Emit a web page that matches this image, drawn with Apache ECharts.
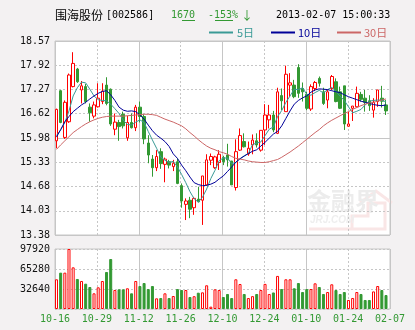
<!DOCTYPE html>
<html>
<head>
<meta charset="utf-8">
<script src="https://cdn.jsdelivr.net/npm/echarts@6/dist/echarts.min.js"></script>
<style>
html,body{margin:0;padding:0;background:#f3f1f2;}
#c{width:415px;height:330px;}
</style>
</head>
<body>
<div id="c"></div>
<script>
// Trading days, 2012-10-16 .. 2013-02-07
const dates = [
 '2012-10-16','2012-10-17','2012-10-18','2012-10-19','2012-10-22','2012-10-23','2012-10-24','2012-10-25','2012-10-26','2012-10-29',
 '2012-10-30','2012-10-31','2012-11-01','2012-11-02','2012-11-05','2012-11-06','2012-11-07','2012-11-08','2012-11-09','2012-11-12',
 '2012-11-13','2012-11-14','2012-11-15','2012-11-16','2012-11-19','2012-11-20','2012-11-21','2012-11-22','2012-11-23','2012-11-26',
 '2012-11-27','2012-11-28','2012-11-29','2012-11-30','2012-12-03','2012-12-04','2012-12-05','2012-12-06','2012-12-07','2012-12-10',
 '2012-12-11','2012-12-12','2012-12-13','2012-12-14','2012-12-17','2012-12-18','2012-12-19','2012-12-20','2012-12-21','2012-12-24',
 '2012-12-25','2012-12-26','2012-12-27','2012-12-28','2012-12-31','2013-01-04','2013-01-07','2013-01-08','2013-01-09','2013-01-10',
 '2013-01-11','2013-01-14','2013-01-15','2013-01-16','2013-01-17','2013-01-18','2013-01-21','2013-01-22','2013-01-23','2013-01-24',
 '2013-01-25','2013-01-28','2013-01-29','2013-01-30','2013-01-31','2013-02-01','2013-02-04','2013-02-05','2013-02-06','2013-02-07'
];

const opens = [
 15.90,17.24,15.99,16.41,17.35,17.82,17.26,17.35,16.80,16.56,
 16.81,16.95,17.39,17.28,16.21,16.39,16.61,15.98,16.39,16.25,
 16.80,16.55,15.84,15.41,15.18,15.61,15.27,15.34,15.21,15.34,
 14.70,14.20,14.31,14.11,14.34,14.31,14.72,15.38,15.18,15.32,
 15.45,15.52,15.36,14.65,15.65,15.88,15.55,15.79,15.90,15.65,
 16.19,16.46,16.59,16.10,17.11,16.68,17.39,17.39,17.86,17.30,
 17.14,16.75,17.30,17.57,17.21,16.99,17.30,17.48,17.21,17.37,
 16.29,16.77,16.81,17.14,17.04,16.97,16.72,16.95,17.04,16.86
];
const closes = [
 16.74,16.39,16.93,17.66,17.97,17.48,17.37,16.95,16.65,16.86,
 17.04,17.23,16.90,16.35,16.40,16.28,16.30,16.39,16.25,16.80,
 16.55,15.95,15.52,15.18,15.48,15.29,15.41,15.25,15.30,14.76,
 14.29,14.29,14.07,14.36,14.27,14.96,15.39,15.48,15.47,15.54,
 15.34,15.39,14.72,15.61,16.04,15.74,15.70,15.92,15.79,16.18,
 16.59,16.59,16.19,17.21,16.97,17.68,17.45,17.08,17.17,17.21,
 16.77,17.35,17.46,17.44,16.90,17.21,17.62,16.95,16.77,16.35,
 16.35,16.83,17.17,17.01,16.93,16.84,16.93,17.26,16.96,16.70
];
const lows = [
 15.70,16.37,15.95,16.38,17.33,17.45,16.90,16.90,16.41,16.50,
 16.79,16.88,16.85,16.30,16.05,15.90,16.23,15.90,16.23,16.16,
 16.39,15.81,15.30,14.94,15.09,15.15,14.79,15.16,15.09,14.74,
 14.11,13.78,13.83,13.92,14.25,13.65,14.70,15.25,15.15,15.12,
 15.25,15.21,14.72,14.57,15.63,15.72,15.50,15.54,15.72,15.61,
 15.79,16.23,16.13,16.08,16.72,16.68,17.08,17.04,17.05,16.95,
 16.72,16.70,17.23,17.35,16.86,16.77,17.26,16.93,16.75,16.19,
 16.28,16.43,16.79,16.95,16.68,16.70,16.52,16.81,16.79,16.59
];
const highs = [
 16.76,17.26,16.98,17.70,18.27,17.85,17.50,17.42,16.90,16.95,
 17.44,17.44,17.60,17.30,16.63,16.46,16.68,16.57,16.63,16.86,
 16.95,16.61,16.05,15.52,15.65,15.70,15.45,15.39,15.39,15.43,
 14.76,14.36,14.40,14.40,14.67,14.96,15.54,15.56,15.50,15.65,
 15.50,15.82,15.36,15.94,16.23,16.10,15.88,16.07,16.10,16.18,
 16.88,16.86,16.70,17.32,17.30,17.91,17.71,17.53,17.95,17.46,
 17.21,17.41,17.50,17.62,17.32,17.26,17.66,17.57,17.35,17.37,
 16.68,16.83,17.35,17.21,17.26,17.12,17.04,17.26,17.37,16.99
];
const volumes = [
 48500,59300,59300,97900,68000,49000,45700,41300,35900,25600,
 35400,45700,60400,81600,31000,32100,32100,33800,25600,45700,
 37500,42400,32600,37500,17400,17900,25600,17900,21200,32600,
 31000,31000,19600,20900,26600,27200,38700, 3800,32100,31000,
 19600,24500,17900,48500,40800,24500,17900,21000,24500,31000,
 41000,24500,27000,54000,32600,48500,48500,33800,42400,27700,
 32600,32600,41900,35900,24500,27700,40300,31000,24500,27700,
 14700,18000,27700,24500,14700,14700,28700,37500,31000,22800
];
const ma5 = [
 16.04,16.19,16.39,16.70,17.10,17.32,17.47,17.45,17.28,17.10,
 17.00,16.98,16.97,16.88,16.76,16.63,16.45,16.34,16.32,16.40,
 16.46,16.39,16.15,15.92,15.70,15.46,15.38,15.32,15.35,15.20,
 15.00,14.78,14.54,14.35,14.26,14.39,14.61,14.89,15.11,15.37,
 15.44,15.44,15.29,15.32,15.42,15.50,15.56,15.80,15.84,15.87,
 16.04,16.21,16.27,16.55,16.71,16.93,17.10,17.28,17.27,17.32,
 17.14,17.12,17.19,17.25,17.18,17.27,17.33,17.22,17.09,16.98,
 16.81,16.65,16.69,16.74,16.86,16.96,16.98,16.99,16.99,16.94
];
const ma10 = [
 16.00,16.20,16.41,16.55,16.68,16.77,16.86,16.93,17.02,17.10,
 17.17,17.22,17.24,17.13,16.98,16.80,16.72,16.69,16.70,16.68,
 16.59,16.48,16.32,16.17,16.05,15.97,15.88,15.75,15.55,15.43,
 15.25,15.10,14.93,14.78,14.73,14.70,14.71,14.74,14.79,14.88,
 14.96,15.08,15.20,15.33,15.42,15.49,15.56,15.62,15.66,15.76,
 15.86,15.97,16.08,16.15,16.30,16.50,16.70,16.88,16.98,17.05,
 17.10,17.20,17.26,17.29,17.28,17.27,17.24,17.21,17.19,17.13,
 17.08,17.04,17.00,16.96,16.93,16.90,16.87,16.85,16.84,16.86
];
const ma30 = [
 15.67,15.79,15.90,16.01,16.12,16.20,16.28,16.35,16.41,16.46,
 16.50,16.53,16.55,16.56,16.56,16.56,16.56,16.57,16.58,16.59,
 16.60,16.61,16.61,16.60,16.58,16.53,16.48,16.44,16.40,16.35,
 16.30,16.22,16.12,16.03,15.93,15.84,15.76,15.70,15.66,15.61,
 15.58,15.54,15.48,15.43,15.41,15.39,15.36,15.34,15.33,15.32,
 15.32,15.34,15.37,15.40,15.46,15.53,15.60,15.68,15.76,15.85,
 15.94,16.03,16.12,16.20,16.30,16.38,16.45,16.51,16.57,16.63,
 16.68,16.74,16.79,16.84,16.88,16.91,16.93,16.96,16.99,17.02
];

const priceTicks = ['13.38','14.03','14.68','15.33','15.98','16.62','17.27','17.92','18.57'];
const volumeTicks = ['', '32640', '65280', '97920'];
const dateTicks = ['10-16','10-29','11-12','11-26','12-10','12-24','01-10','01-24','02-07'];

const UP = '#ff0000', DOWN = '#339933', GRIDC = '#c6c6c6';
const MONO = '"DejaVu Sans Mono", "Liberation Mono", monospace';
const CJK = '"Noto Sans CJK SC", sans-serif';

const candleData = opens.map((o, i) => [o, closes[i], lows[i], highs[i]]);
const volData = volumes.map((v, i) => ({
  value: v,
  itemStyle: closes[i] >= opens[i]
    ? { color: '#ffffff', borderColor: UP, borderWidth: 1 }
    : { color: DOWN, borderColor: DOWN, borderWidth: 1 }
}));

const PMIN = 13.38, PMAX = 18.57, PSTEP = (PMAX - PMIN) / 8;
const VMAX = 97920, VSTEP = 32640;

// frame grids (border + split lines) and data grids overlaid on them
const grids = [
  { left: 55, top: 41, width: 335, height: 194, show: true, backgroundColor: '#fff', borderColor: GRIDC, borderWidth: 1 },
  { left: 54.4, top: 41, width: 333.7, height: 194, show: false },
  { left: 55, top: 249, width: 335, height: 60, show: true, backgroundColor: '#fff', borderColor: GRIDC, borderWidth: 1 },
  { left: 54.4, top: 249, width: 333.7, height: 60, show: false }
];

const dashed = { show: true, lineStyle: { color: GRIDC, type: [2, 2], width: 1 } };
const solid = { show: true, lineStyle: { color: GRIDC, type: 'solid', width: 1 } };
const hiddenAxisParts = { axisLine: { show: false }, axisTick: { show: false } };

const xAxes = [
  Object.assign({ type: 'value', gridIndex: 0, min: 0, max: 8, interval: 1, axisLabel: { show: false }, splitLine: dashed }, hiddenAxisParts),
  Object.assign({ type: 'value', gridIndex: 0, min: 0, max: 8, interval: 2, axisLabel: { show: false }, splitLine: solid }, hiddenAxisParts),
  Object.assign({ type: 'category', gridIndex: 1, data: dates, boundaryGap: true, axisLabel: { show: false }, splitLine: { show: false } }, hiddenAxisParts),
  Object.assign({ type: 'value', gridIndex: 2, min: 0, max: 8, interval: 1, splitLine: dashed,
    axisLabel: { show: true, margin: 5, color: '#339933', fontFamily: MONO, fontSize: 10,
      showMinLabel: true, showMaxLabel: true, hideOverlap: false,
      formatter: v => dateTicks[Math.round(v)] } }, hiddenAxisParts),
  Object.assign({ type: 'value', gridIndex: 2, min: 0, max: 8, interval: 2, axisLabel: { show: false }, splitLine: solid }, hiddenAxisParts),
  Object.assign({ type: 'category', gridIndex: 3, data: dates, boundaryGap: true, axisLabel: { show: false }, splitLine: { show: false } }, hiddenAxisParts)
];

const yAxes = [
  Object.assign({ type: 'value', gridIndex: 0, min: PMIN, max: PMAX, interval: PSTEP, splitLine: dashed,
    axisLabel: { show: true, margin: 5, color: '#111', fontFamily: MONO, fontSize: 10,
      showMinLabel: true, showMaxLabel: true,
      formatter: v => priceTicks[Math.round((v - PMIN) / PSTEP)] } }, hiddenAxisParts),
  Object.assign({ type: 'value', gridIndex: 0, min: PMIN, max: PMAX, interval: PSTEP * 4, axisLabel: { show: false }, splitLine: solid }, hiddenAxisParts),
  Object.assign({ type: 'value', gridIndex: 1, min: PMIN, max: PMAX, axisLabel: { show: false }, splitLine: { show: false } }, hiddenAxisParts),
  Object.assign({ type: 'value', gridIndex: 2, min: 0, max: VMAX, interval: VSTEP, splitLine: dashed,
    axisLabel: { show: true, margin: 5, color: '#111', fontFamily: MONO, fontSize: 10,
      showMaxLabel: true,
      formatter: v => volumeTicks[Math.round(v / VSTEP)] } }, hiddenAxisParts),
  Object.assign({ type: 'value', gridIndex: 3, min: 0, max: VMAX, axisLabel: { show: false }, splitLine: { show: false } }, hiddenAxisParts)
];

function maLine(name, data, color) {
  return { name, type: 'line', xAxisIndex: 2, yAxisIndex: 2, data, symbol: 'none', smooth: false,
    silent: true, animation: false, lineStyle: { color, width: 1 }, z: 3 };
}

const txt = (text, x, y, fill, font, extra) => ({
  type: 'text', x, y, silent: true,
  style: Object.assign({ text, fill, font, verticalAlign: 'middle', align: 'left' }, extra || {})
});
const seg = (x1, x2, y, color, w) => ({
  type: 'line', silent: true, shape: { x1, y1: y, x2, y2: y }, style: { stroke: color, lineWidth: w || 2 }
});

const chart = echarts.init(document.getElementById('c'), null, { renderer: 'canvas' });
chart.setOption({
  animation: false,
  backgroundColor: '#f3f1f2',
  grid: grids,
  xAxis: xAxes,
  yAxis: yAxes,
  graphic: [
    // watermark
    { type: 'polyline', silent: true, z: 0, shape: { points: [[309,229],[352,229],[352,216],[368,216],[368,203],[385,203],[385,229],[352,229]] },
      style: { stroke: '#f9e6e6', lineWidth: 3, fill: null } },
    { type: 'polyline', silent: true, z: 0, shape: { points: [[360,203],[376,191],[392,203]] },
      style: { stroke: '#f9e6e6', lineWidth: 3, fill: null } },
    txt('金融界', 307, 201, '#ececec', 'bold 24px ' + CJK),
    txt('JRJ.COM', 310, 220, '#eeeeee', 'italic bold 10px "Liberation Sans", sans-serif'),
    // header: name, code, last price, change, time
    txt('围海股份', 55, 15, '#000', '12px ' + CJK),
    txt('[002586]', 106, 15, '#000', '10px ' + MONO),
    txt('1670', 171, 15, '#339933', '10px ' + MONO),
    seg(182, 195, 20.5, '#339933', 1),
    txt('-153%', 208, 15, '#339933', '10px ' + MONO),
    txt('↓', 241, 15, '#339933', '12px ' + CJK),
    seg(215, 233, 20.5, '#339933', 1),
    txt('2013-02-07 15:00:33', 276, 15, '#000', '10px ' + MONO),
    // legend
    seg(209, 233, 32.5, '#3a9a96'), txt('5日', 237, 32.5, '#3a9a96', '11px ' + CJK),
    seg(271, 295, 32.5, '#000099'), txt('10日', 298, 32.5, '#000099', '11px ' + CJK),
    seg(337, 361, 32.5, '#cc6666'), txt('30日', 364, 32.5, '#cc6666', '11px ' + CJK)
  ],
  series: [
    { type: 'candlestick', name: 'K', xAxisIndex: 2, yAxisIndex: 2, data: candleData, barWidth: 3,
      silent: true, z: 2,
      itemStyle: { color: '#ffffff', borderColor: UP, color0: DOWN, borderColor0: DOWN, borderWidth: 1 } },
    maLine('MA5', ma5, '#3a9a96'),
    maLine('MA10', ma10, '#000099'),
    maLine('MA30', ma30, '#cc6666'),
    { type: 'bar', name: 'VOL', xAxisIndex: 5, yAxisIndex: 4, data: volData, barWidth: 3, silent: true }
  ]
});
</script>
</body>
</html>
